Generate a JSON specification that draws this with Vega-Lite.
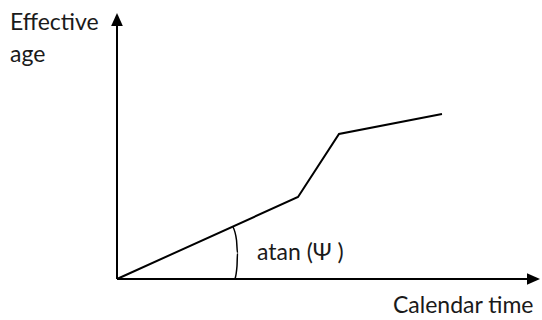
{
  "$schema": "https://vega.github.io/schema/vega-lite/v6.json",
  "width": 542,
  "height": 320,
  "autosize": {"type": "fit", "contains": "padding"},
  "padding": 0,
  "background": "white",
  "config": {"view": {"stroke": null}},
  "datasets": {
    "axes": [
      {"axis": "y", "x": 0, "y": 0, "x2": 0, "y2": 262},
      {"axis": "x", "x": 0, "y": 0, "x2": 420, "y2": 0}
    ],
    "curve": [
      {"t": 0, "age": 0},
      {"t": 181, "age": 82},
      {"t": 222, "age": 145},
      {"t": 325, "age": 165}
    ],
    "arc": [
      {"k": 0, "t": 116, "age": 52},
      {"k": 1, "t": 119.5, "age": 39},
      {"k": 2, "t": 120.5, "age": 26},
      {"k": 3, "t": 120, "age": 13},
      {"k": 4, "t": 118, "age": 0}
    ],
    "heads": [
      {"dir": "up", "t": 0, "age": 266},
      {"dir": "right", "t": 423, "age": 0}
    ],
    "labels": [
      {"label": "Effective", "t": -107, "age": 249},
      {"label": "age", "t": -107, "age": 217},
      {"label": "atan (Ψ )", "t": 140, "age": 19},
      {"label": "Calendar time", "t": 276, "age": -34}
    ]
  },
  "layer": [
    {
      "data": {"name": "axes"},
      "mark": {"type": "rule", "color": "black", "strokeWidth": 2},
      "encoding": {
        "x": {"field": "x", "type": "quantitative", "scale": {"domain": [-117, 425], "nice": false, "zero": false}, "axis": null},
        "y": {"field": "y", "type": "quantitative", "scale": {"domain": [-41, 279], "nice": false, "zero": false}, "axis": null},
        "x2": {"field": "x2"},
        "y2": {"field": "y2"}
      }
    },
    {
      "data": {"name": "curve"},
      "mark": {"type": "line", "color": "black", "strokeWidth": 2},
      "encoding": {
        "x": {"field": "t", "type": "quantitative"},
        "y": {"field": "age", "type": "quantitative"}
      }
    },
    {
      "data": {"name": "arc"},
      "mark": {"type": "line", "color": "black", "strokeWidth": 1.5, "interpolate": "monotone"},
      "encoding": {
        "x": {"field": "t", "type": "quantitative"},
        "y": {"field": "age", "type": "quantitative"},
        "order": {"field": "k"}
      }
    },
    {
      "data": {"name": "heads"},
      "transform": [{"filter": "datum.dir == 'up'"}],
      "mark": {"type": "point", "shape": "M0,0L-0.45,1L0.45,1Z", "size": 676, "filled": true, "color": "black", "opacity": 1},
      "encoding": {
        "x": {"field": "t", "type": "quantitative"},
        "y": {"field": "age", "type": "quantitative"}
      }
    },
    {
      "data": {"name": "heads"},
      "transform": [{"filter": "datum.dir == 'right'"}],
      "mark": {"type": "point", "shape": "M0,0L-1,-0.45L-1,0.45Z", "size": 676, "filled": true, "color": "black", "opacity": 1},
      "encoding": {
        "x": {"field": "t", "type": "quantitative"},
        "y": {"field": "age", "type": "quantitative"}
      }
    },
    {
      "data": {"name": "labels"},
      "mark": {"type": "text", "align": "left", "baseline": "alphabetic", "font": "Lato", "fontSize": 23, "color": "#1a1a1a"},
      "encoding": {
        "x": {"field": "t", "type": "quantitative"},
        "y": {"field": "age", "type": "quantitative"},
        "text": {"field": "label"}
      }
    }
  ]
}
